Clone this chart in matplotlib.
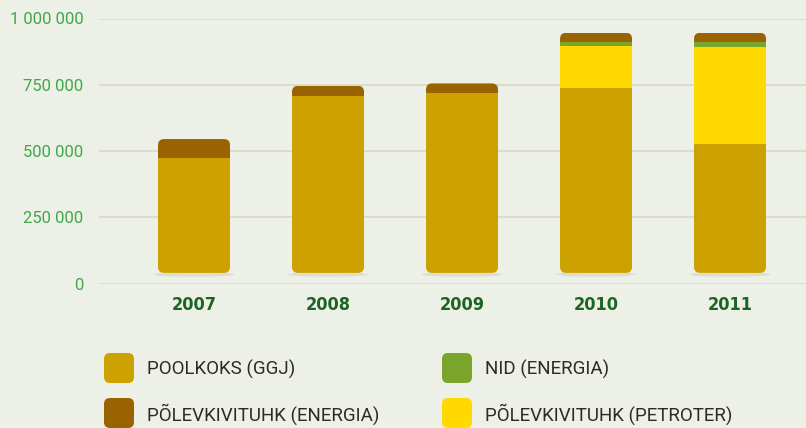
import matplotlib
matplotlib.use("Agg")
import matplotlib.pyplot as plt
from matplotlib.patches import FancyBboxPatch, Ellipse
from matplotlib.ticker import FuncFormatter
import numpy as np

# data
years = ["2007", "2008", "2009", "2010", "2011"]
poolkoks = [475000, 709000, 718000, 738000, 526000]
tuhk_petroter = [0, 0, 0, 158000, 366000]
nid_energia = [0, 0, 0, 15000, 19000]
tuhk_energia = [70000, 37000, 37000, 35000, 35000]
yticks = [0, 250000, 500000, 750000, 1000000]

legend_labels = ["POOLKOKS (GGJ)", "NID (ENERGIA)",
                 "PÕLEVKIVITUHK (ENERGIA)", "PÕLEVKIVITUHK (PETROTER)"]

c_gold = "#cca100"
c_brown = "#996300"
c_green = "#79a62a"
c_yellow = "#ffd900"
legend_colors = [c_gold, c_green, c_brown, c_yellow]

bg = "#edf0e6"
grid_c = "#d9dcc6"
tick_green = "#3fa848"
year_green = "#1d6424"

W, H = 806, 428
fig = plt.figure(figsize=(W / 100, H / 100), dpi=100, facecolor=bg)

# plot area: left edge at 99px, 0 line at 283.5px, 1M line at 18.5px
ax = fig.add_axes([99 / W, (H - 283.5) / H, 1 - 99 / W, 265 / H])
ax.set_facecolor(bg)
ax.set_ylim(0, 1000000)
ax.set_xlim(-0.709, 4.567)

for s in ax.spines.values():
    s.set_visible(False)
ax.set_yticks(yticks)
ax.yaxis.grid(True, color=grid_c, linewidth=1.3)
ax.set_axisbelow(True)
ax.yaxis.set_major_formatter(FuncFormatter(lambda v, p: f"{int(v):,}".replace(",", " ")))
ax.tick_params(axis="y", length=0, pad=11, labelsize=12, labelcolor=tick_green)
for lab in ax.get_yticklabels():
    lab.set_family(["Roboto", "DejaVu Sans"])

x = np.arange(len(years))
ax.set_xticks(x)
ax.set_xticklabels(years)
ax.tick_params(axis="x", length=0, pad=9, labelsize=13, labelcolor=year_green)
for lab in ax.get_xticklabels():
    lab.set_family(["DejaVu Sans Condensed", "DejaVu Sans"])
    lab.set_fontstretch("condensed")
    lab.set_fontweight("bold")

bar_w = 0.537
bar_base = 40000  # bars float a little above the zero line
px_x = 1 / 134.0        # x data units per pixel
px_y = 1000000 / 265.0  # y data units per pixel
radius = 6 * px_x

p1 = np.array(poolkoks)
p2 = p1 + np.array(tuhk_petroter)
p3 = p2 + np.array(nid_energia)
totals = p3 + np.array(tuhk_energia)

for i in range(len(years)):
    # soft shadow under each bar
    ax.add_patch(Ellipse((x[i], bar_base - 1.5 * px_y), bar_w * 1.12, 5 * px_y,
                         facecolor="#c9c9b8", edgecolor="none", alpha=0.45, zorder=2))
    clip = FancyBboxPatch((x[i] - bar_w / 2, bar_base), bar_w, totals[i] - bar_base,
                          boxstyle=f"round,pad=0,rounding_size={radius}",
                          mutation_aspect=px_y / px_x,
                          facecolor="none", edgecolor="none", zorder=3)
    ax.add_patch(clip)
    segs = [
        (0, poolkoks[i], c_gold),
        (p1[i], tuhk_petroter[i], c_yellow),
        (p2[i], nid_energia[i], c_green),
        (p3[i], tuhk_energia[i], c_brown),
    ]
    for bottom, h, col in segs:
        if h <= 0:
            continue
        bars = ax.bar(x[i], h, bottom=bottom, width=bar_w, color=col,
                      edgecolor="none", zorder=3)
        for b in bars:
            b.set_clip_path(clip)

# legend drawn in pixel coordinates
lax = fig.add_axes([0, 0, 1, 1])
lax.set_xlim(0, W)
lax.set_ylim(H, 0)
lax.axis("off")
lax.patch.set_alpha(0)

col_x = [104, 442]
row_y = [353, 398]
sq = 30
for k, (lab, col) in enumerate(zip(legend_labels, legend_colors)):
    cx = col_x[k % 2]
    cy = row_y[k // 2]
    lax.add_patch(FancyBboxPatch((cx, cy), sq, sq,
                                 boxstyle="round,pad=0,rounding_size=6",
                                 facecolor=col, edgecolor="none", clip_on=False))
    lax.text(cx + 43, cy + sq / 2 + 1, lab, fontsize=13.5, color="#2b2b2b",
             family=["Roboto", "DejaVu Sans"],
             va="center", ha="left")

fig.savefig("out.png", dpi=100, facecolor=bg)
